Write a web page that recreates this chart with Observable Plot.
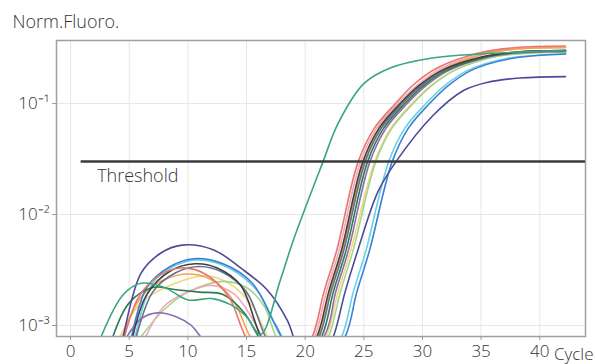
<!DOCTYPE html>
<html><head><meta charset="utf-8">
<script src="https://cdn.jsdelivr.net/npm/d3@7"></script>
<script src="https://cdn.jsdelivr.net/npm/@observablehq/plot@0.6"></script>
<style>body{margin:0;background:#fff;}</style>
</head><body><div id="chart"></div>
<script>
// Series (cycle, normalised fluorescence)
const teal = [[2.6,7.9e-4],[4.5,1.9e-3],[6,2.4e-3],[8,2.2e-3],[10,1.7e-3],[12,1.75e-3],[13.6,1.55e-3],[15,1.2e-3],[16.2,8.3e-4],[17.9,2.6e-3],[19.0,5.9e-3],[21.5,0.0295],[22.8,0.066],[25.0,0.151],[27.3,0.21],[30.7,0.256],[34.9,0.28],[42.2,0.30]];
const red = [[4.6,7.9e-4],[5.8,1.8e-3],[7.5,2.8e-3],[9.4,3.3e-3],[11.5,2.9e-3],[13.5,1.8e-3],[14.9,8e-4],[17.8,2.5e-4],[20.6,7.9e-4],[21.6,2.0e-3],[22.7,4.8e-3],[24.5,0.0295],[25.9,0.06],[27.7,0.1],[29.3,0.15],[31.3,0.21],[34.8,0.285],[38,0.32],[42.2,0.33]];
const pink = [[6.4,7.9e-4],[8,1.5e-3],[10,2.0e-3],[12,2.3e-3],[14,1.9e-3],[15.6,1.1e-3],[16.3,7.9e-4],[18.5,3e-4],[20.8,7.9e-4],[21.8,2.0e-3],[22.9,4.8e-3],[24.7,0.0295],[26.1,0.06],[27.9,0.1],[29.5,0.145],[31.5,0.205],[35,0.28],[38,0.31],[42.2,0.32]];
const black = [[5.3,7.9e-4],[6.5,1.9e-3],[8.5,3.1e-3],[10.6,3.6e-3],[12.5,3.3e-3],[14.5,2.3e-3],[16.2,8e-4],[18.6,3e-4],[21.0,7.9e-4],[22.0,2.0e-3],[23.1,4.8e-3],[24.9,0.0295],[26.3,0.06],[28.1,0.1],[29.7,0.145],[31.7,0.2],[35.2,0.265],[38,0.29],[42.2,0.30]];
const orange = [[4.4,7.9e-4],[6,1.8e-3],[8,2.6e-3],[10.5,2.9e-3],[12.5,2.4e-3],[14,1.6e-3],[15.3,8e-4],[18.2,3e-4],[21.1,7.9e-4],[22.1,2.0e-3],[23.2,4.8e-3],[25.0,0.0295],[26.4,0.06],[28.2,0.1],[29.8,0.145],[31.8,0.205],[35.3,0.28],[38,0.31],[42.2,0.32]];
const slate = [[5.6,7.9e-4],[7,2.0e-3],[9,3.0e-3],[11,3.4e-3],[13,3.0e-3],[15,2.0e-3],[16.6,8e-4],[18.9,3e-4],[21.2,7.9e-4],[22.2,2.0e-3],[23.3,4.8e-3],[25.1,0.0295],[26.5,0.06],[28.3,0.1],[29.9,0.145],[31.9,0.2],[35.4,0.265],[38,0.29],[42.2,0.30]];
const darkGreen = [[3.6,7.9e-4],[5,1.6e-3],[7,2.2e-3],[9,2.1e-3],[11,2.0e-3],[13,1.9e-3],[14.8,1.3e-3],[16,8e-4],[18.7,3e-4],[21.4,7.9e-4],[22.4,2.0e-3],[23.5,4.8e-3],[25.3,0.0295],[26.7,0.06],[28.5,0.1],[30.1,0.145],[32.1,0.2],[35.6,0.265],[38,0.29],[42.2,0.30]];
const purple = [[4.8,7.9e-4],[6,1.15e-3],[7.4,1.3e-3],[9,1.2e-3],[10.3,1.0e-3],[11.1,7.9e-4],[16,2e-4],[21.6,7.9e-4],[22.6,2.0e-3],[23.7,4.8e-3],[25.5,0.0295],[26.9,0.06],[28.7,0.1],[30.3,0.145],[32.3,0.2],[35.8,0.265],[38,0.285],[42.2,0.295]];
const yellow = [[4.2,7.9e-4],[6,1.6e-3],[8.5,2.3e-3],[11.5,2.8e-3],[13.5,2.4e-3],[15.5,1.5e-3],[16.8,8e-4],[19.3,3e-4],[21.8,7.9e-4],[22.8,2.0e-3],[23.9,4.8e-3],[25.9,0.0295],[27.3,0.06],[29.1,0.1],[30.7,0.145],[32.7,0.2],[36.2,0.265],[39,0.285],[42.2,0.29]];
const lightGreen = [[6,7.9e-4],[8,1.4e-3],[10,2.0e-3],[13,2.5e-3],[15,2.2e-3],[16.5,1.5e-3],[17.5,8e-4],[19.8,3e-4],[22.0,7.9e-4],[23.0,2.0e-3],[24.1,4.8e-3],[26.0,0.0295],[27.4,0.06],[29.2,0.1],[30.8,0.145],[32.8,0.2],[36.3,0.265],[39,0.285],[42.2,0.29]];
const cyan = [[5.5,7.9e-4],[7,2.4e-3],[9,3.5e-3],[11,3.9e-3],[13.5,3.3e-3],[16,2.0e-3],[17.9,8e-4],[20.5,3e-4],[23.1,7.9e-4],[24.1,2.0e-3],[25.2,4.8e-3],[27.1,0.0295],[28.5,0.06],[30.3,0.1],[31.9,0.145],[33.9,0.2],[37.2,0.255],[42.2,0.28]];
const blue = [[5.2,7.9e-4],[6.5,2.2e-3],[8.5,3.4e-3],[10.5,4.0e-3],[13,3.6e-3],[15.5,2.4e-3],[17.5,1.0e-3],[20.5,3e-4],[23.4,7.9e-4],[24.4,2.0e-3],[25.5,4.8e-3],[27.4,0.0295],[28.8,0.06],[30.6,0.1],[32.2,0.145],[34.2,0.2],[37.6,0.255],[42.2,0.28]];
const navy = [[4.5,7.9e-4],[6.0,2.95e-3],[7.7,4.5e-3],[9.5,5.3e-3],[12.2,4.8e-3],[14.5,3.3e-3],[16.8,2.07e-3],[18.5,1.1e-3],[20.5,3e-4],[22.4,7.9e-4],[23.4,2.0e-3],[24.5,4.8e-3],[26.2,0.016],[27.7,0.0295],[30.9,0.078],[33.5,0.131],[35.5,0.155],[38.3,0.17],[42.2,0.175]];

const seriesNames = ["yellow","lightGreen","pink","orange","cyan","blue","slate","purple","darkGreen","black","red","navy","teal"];
const seriesColors = ["#f2d782","#a5d58c","#f0a7b8","#f3a24e","#68d2e3","#3c7fd4","#66708c","#8c6bb1","#2e7a57","#404040","#e8766c","#4d4b99","#3aa57f"];
const seriesData = {teal, red, pink, black, orange, slate, darkGreen, purple, yellow, lightGreen, cyan, blue, navy};

const xTicks = [0,5,10,15,20,25,30,35,40];
const yTicks = [1e-3,1e-2,1e-1];
const yTickLabels = ["10\u207B\u00B3","10\u207B\u00B2","10\u207B\u00B9"];
const xDomain = [-1.2, 43.9];
const yDomain = [7.96e-4, 0.37];
const threshold = [{value: 0.03, from: 0.9, to: 43.9, label: "Threshold"}];
const yTitle = "Norm.Fluoro.";
const xTitle = "Cycle";

const rows = seriesNames.flatMap(name => seriesData[name].map(([c, v]) => ({name, c, v})));

const chart = Plot.plot({
  width: 595, height: 364,
  marginLeft: 56, marginRight: 10, marginTop: 40, marginBottom: 28,
  style: {fontFamily: "'Open Sans', sans-serif", fontSize: "18px", fontWeight: 300, color: "#333", background: "#fff"},
  x: {domain: xDomain},
  y: {type: "log", domain: yDomain},
  color: {domain: seriesNames, range: seriesColors},
  marks: [
    Plot.gridX(xTicks, {stroke: "#e6e6e6", strokeOpacity: 1}),
    Plot.gridY(yTicks, {stroke: "#e6e6e6", strokeOpacity: 1}),
    Plot.line(rows, {x: "c", y: "v", z: "name", stroke: "name", curve: "catmull-rom", strokeWidth: 1.6, clip: true}),
    Plot.frame({stroke: "#a0a0a0", strokeWidth: 1.5}),
    Plot.axisX({ticks: xTicks, tickSize: 4, tickPadding: 4, label: null, stroke: "#999", fill: "#333", fontSize: 17}),
    Plot.axisY({ticks: yTicks, tickFormat: d => yTickLabels[yTicks.indexOf(d)], tickSize: 4, tickPadding: 3, label: null, stroke: "#999", fill: "#333", fontSize: 17}),
    Plot.ruleY(threshold, {y: "value", x1: "from", x2: "to", stroke: "#3a3a3a", strokeWidth: 2.5}),
    Plot.text(threshold, {x: "from", y: "value", text: "label", textAnchor: "start", dx: 16, dy: 15, fontSize: 18, fill: "#333"}),
    Plot.text([yTitle], {text: d => d, frameAnchor: "top-left", textAnchor: "start", lineAnchor: "middle", dx: -44, dy: -18, fontSize: 18, fill: "#333"}),
    Plot.text([xTitle], {text: d => d, frameAnchor: "bottom-right", textAnchor: "end", lineAnchor: "middle", dx: 8, dy: 18, fontSize: 17, fill: "#333"})
  ]
});
document.getElementById("chart").append(chart);
</script>
</body></html>
